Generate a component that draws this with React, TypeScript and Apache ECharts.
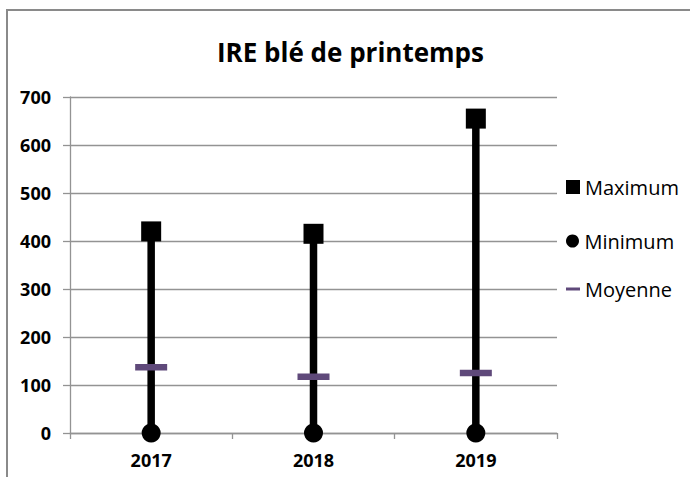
import React, { useEffect, useRef } from "react";
import * as echarts from "echarts";

const categories = ["2017", "2018", "2019"];
const maximum = [420, 415, 655];
const minimum = [0, 0, 0];
const moyenne = [137, 117, 125];
const yTicks = { min: 0, max: 700, interval: 100 };

const FONT = "'Open Sans', 'Noto Sans', sans-serif";
const GRID = "#939393";

export default function App() {
  const ref = useRef<HTMLDivElement>(null);
  useEffect(() => {
    if (!ref.current) return;
    const chart = echarts.init(ref.current, null, { renderer: "svg" });
    const rangeData = categories.map((c, i) => [i, minimum[i], maximum[i]]);
    chart.setOption({
      animation: false,
      backgroundColor: "#fff",
      title: {
        text: "IRE blé de printemps",
        left: 212,
        top: 34,
        textStyle: { fontFamily: FONT, fontWeight: "bold", fontSize: 26, color: "#000" },
      },
      graphic: [
        { type: "line", shape: { x1: 6, y1: 10, x2: 690, y2: 10 }, style: { stroke: "#8a8a8a", lineWidth: 2 } },
        { type: "line", shape: { x1: 7, y1: 9, x2: 7, y2: 477 }, style: { stroke: "#8a8a8a", lineWidth: 2 } },
      ],
      legend: [
        {
          data: [{ name: "Maximum", icon: "rect" }],
          left: 561, top: 172, orient: "vertical",
          itemWidth: 14, itemHeight: 14, itemGap: 6,
          textStyle: { fontFamily: FONT, fontSize: 20, color: "#000" },
        },
        {
          data: [{ name: "Minimum", icon: "circle" }],
          left: 561, top: 226, orient: "vertical",
          itemWidth: 14, itemHeight: 13, itemGap: 6,
          textStyle: { fontFamily: FONT, fontSize: 20, color: "#000" },
        },
        {
          data: [{ name: "Moyenne", icon: "rect" }],
          left: 561, top: 274, orient: "vertical",
          itemWidth: 14, itemHeight: 3, itemGap: 6,
          textStyle: { fontFamily: FONT, fontSize: 20, color: "#000" },
        },
      ],
      grid: { left: 70, right: 133, top: 97, bottom: 44, containLabel: false },
      xAxis: {
        type: "category",
        data: categories,
        boundaryGap: true,
        axisLine: { show: true, lineStyle: { color: GRID, width: 1.3 } },
        axisTick: { show: true, length: 6, lineStyle: { color: GRID, width: 1.3 } },
        axisLabel: { fontFamily: FONT, fontWeight: "bold", fontSize: 18, color: "#000", margin: 18 },
        splitLine: { show: false },
      },
      yAxis: {
        type: "value",
        min: yTicks.min,
        max: yTicks.max,
        interval: yTicks.interval,
        axisLine: { show: true, lineStyle: { color: GRID, width: 1.3 } },
        axisTick: { show: true, length: 7, lineStyle: { color: GRID, width: 1.3 } },
        axisLabel: { fontFamily: FONT, fontWeight: "bold", fontSize: 18, color: "#000", margin: 19 },
        splitLine: { show: true, lineStyle: { color: GRID, width: 1.3 } },
      },
      series: [
        {
          name: "range",
          type: "custom",
          z: 1,
          data: rangeData,
          encode: { x: 0, y: [1, 2] },
          renderItem: (params: any, api: any) => {
            const x = api.value(0);
            const lo = api.coord([x, api.value(1)]);
            const hi = api.coord([x, api.value(2)]);
            return {
              type: "line",
              shape: { x1: lo[0], y1: lo[1], x2: hi[0], y2: hi[1] },
              style: { stroke: "#000", lineWidth: 7.5 },
            };
          },
        },
        {
          name: "Maximum",
          type: "scatter",
          z: 3,
          symbol: "rect",
          symbolSize: 20,
          itemStyle: { color: "#000", opacity: 1 },
          data: maximum,
        },
        {
          name: "Minimum",
          type: "scatter",
          z: 3,
          symbol: "circle",
          symbolSize: 19,
          itemStyle: { color: "#000", opacity: 1 },
          data: minimum,
        },
        {
          name: "Moyenne",
          type: "scatter",
          z: 4,
          symbol: "rect",
          symbolSize: [32, 6.5],
          itemStyle: { color: "#5f497a", opacity: 1 },
          data: moyenne,
        },
      ],
    });
    return () => chart.dispose();
  }, []);
  return (
    <div
      ref={ref}
      style={{ position: "absolute", left: 0, top: 0, width: 690, height: 477 }}
    />
  );
}
